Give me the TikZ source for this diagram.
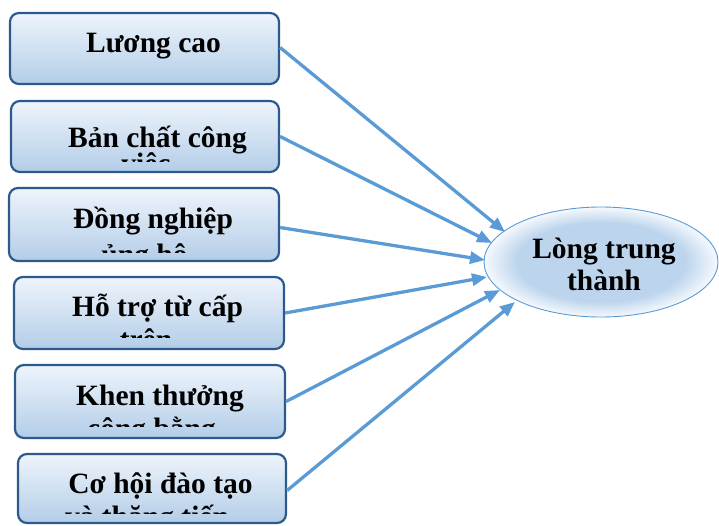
\documentclass[tikz,border=0pt]{standalone}
\usepackage{fontspec}
\setmainfont{Liberation Serif}
\usetikzlibrary{arrows.meta,shapes.geometric}
\definecolor{boxborder}{HTML}{2C5A8C}
\definecolor{boxtop}{HTML}{EEF4FB}
\definecolor{boxbot}{HTML}{B3CDE8}
\definecolor{arrowblue}{HTML}{5B9BD5}
\definecolor{ellcore}{HTML}{BCD5ED}
\definecolor{ellrim}{HTML}{F6F9FD}
\pgfdeclareradialshading{ellglow}{\pgfpoint{0bp}{0bp}}{color(0bp)=(ellcore); color(18bp)=(ellcore); color(25bp)=(ellrim); color(50bp)=(ellrim)}
\tikzset{
  factorbox/.style={draw=boxborder, line width=2.2pt, rounded corners=9pt,
    top color=boxtop, bottom color=boxbot, inner sep=0pt},
  boxtext/.style={font=\fontsize{29.5}{31}\selectfont\bfseries, anchor=base, inner sep=0pt},
  link/.style={draw=arrowblue, line width=3.3pt, -{Triangle[length=15pt,width=12pt]}},
}
\begin{document}
\begin{tikzpicture}[x=1pt,y=-1pt]
\useasboundingbox (0,0) rectangle (719,525);

% boxes
\node[factorbox, minimum width=269pt, minimum height=71pt] (b1) at (144.5,48.5) {};
\node[factorbox, minimum width=268pt, minimum height=71pt] (b2) at (145,136.5) {};
\node[factorbox, minimum width=270pt, minimum height=73pt] (b3) at (144,224.5) {};
\node[factorbox, minimum width=270pt, minimum height=72pt] (b4) at (149,313) {};
\node[factorbox, minimum width=270pt, minimum height=73pt] (b5) at (150,401.5) {};
\node[factorbox, minimum width=268pt, minimum height=69pt] (b6) at (152,488.5) {};

% box texts (clipped like the original text boxes)
\node[boxtext] (l1) at (153.5,52.7) {Lương cao};

\begin{scope}
  \clip (13,103) rectangle (277,161);
  \node[boxtext] (l2a) at (157.5,147) {Bản chất công};
  \node[boxtext] (l2b) at (146,173.5) {việc};
\end{scope}

\begin{scope}
  \clip (11,190) rectangle (277,252);
  \node[boxtext] (l3a) at (153,228.3) {Đồng nghiệp};
  \node[boxtext] (l3b) at (144.5,264.5) {ủng hộ};
\end{scope}

\begin{scope}
  \clip (16,279) rectangle (282,337);
  \node[boxtext] (l4a) at (157.5,316.7) {Hỗ trợ từ cấp};
  \node[boxtext] (l4b) at (146,349.5) {trên};
\end{scope}

\begin{scope}
  \clip (17,367) rectangle (283,426);
  \node[boxtext] (l5a) at (160,405) {Khen thưởng};
  \node[boxtext] (l5b) at (151.5,438.5) {công bằng};
\end{scope}

\begin{scope}
  \clip (20,456) rectangle (284,513.5);
  \node[boxtext] (l6a) at (160.5,493) {Cơ hội đào tạo};
  \node[boxtext] (l6b) at (147,526) {và thăng tiến};
\end{scope}

% target ellipse
\node[ellipse, shade, shading=ellglow, draw=arrowblue, line width=0.9pt,
      minimum width=234pt, minimum height=110pt, inner sep=0pt] (ell) at (601,262) {};
\node[boxtext] (e1) at (604,258) {Lòng trung};
\node[boxtext] (e2) at (604,290) {thành};

% arrow tips
\coordinate (t1) at (505,232);
\coordinate (t2) at (492,243);
\coordinate (t3) at (485,260);
\coordinate (t4) at (487,277);
\coordinate (t5) at (500,290);
\coordinate (t6) at (515,302);

\draw[link] ([yshift=1pt]b1.east) -- (t1);
\draw[link] (b2.east) -- (t2);
\draw[link] ([yshift=-3pt]b3.east) -- (t3);
\draw[link] (b4.east) -- (t4);
\draw[link] (b5.east) -- (t5);
\draw[link] ([yshift=-2pt]b6.east) -- (t6);
\end{tikzpicture}
\end{document}
